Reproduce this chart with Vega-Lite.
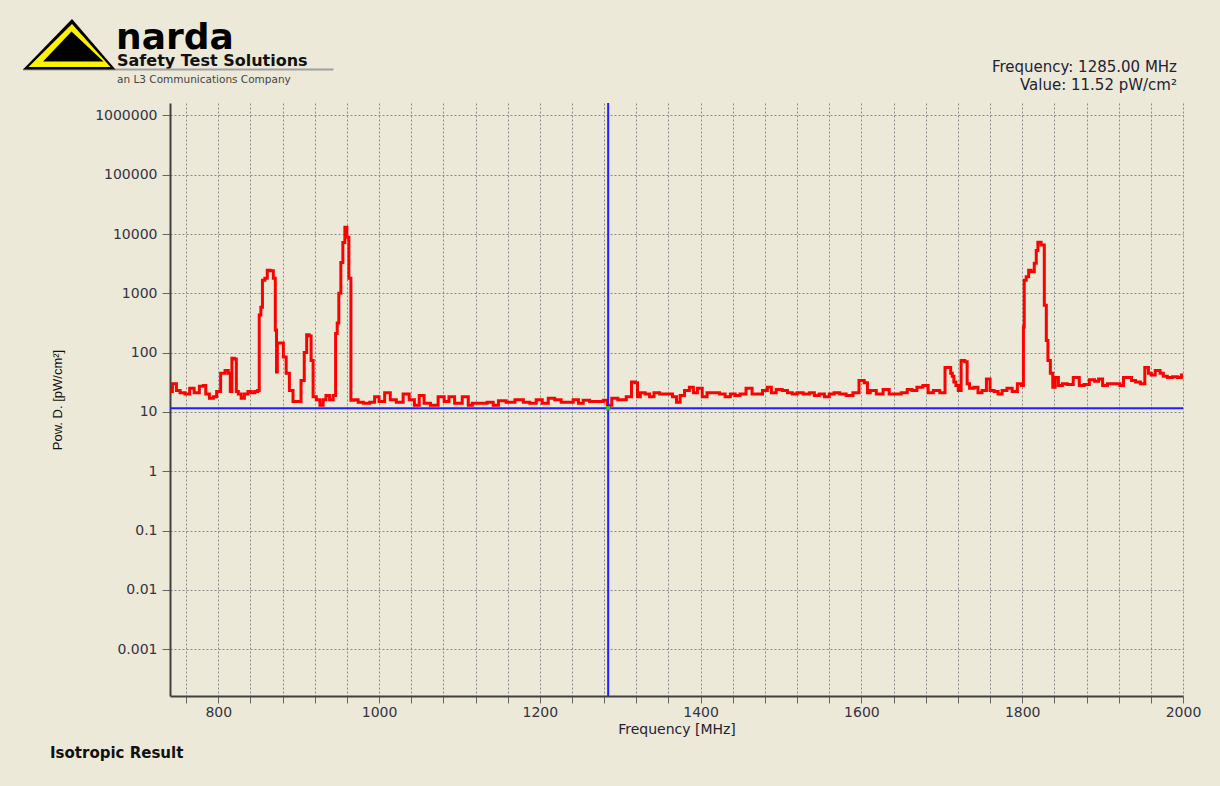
{
  "$schema": "https://vega.github.io/schema/vega-lite/v6.json",
  "width": 1013,
  "height": 593,
  "autosize": {"type": "none"},
  "padding": {"left": 170, "top": 103, "right": 37, "bottom": 90},
  "background": "#ECE9D8",
  "config": {
    "view": {"stroke": null},
    "font": "DejaVu Sans",
    "axis": {
      "grid": true, "gridDash": [2, 2], "gridColor": "#8a8a8a", "gridWidth": 1,
      "tickColor": "#666666", "tickWidth": 1,
      "domainColor": "#404040", "domainWidth": 2,
      "labelFont": "DejaVu Sans", "labelFontSize": 14, "labelColor": "#333344",
      "labelOverlap": false, "labelFlush": false, "labelBound": false,
      "titleFontWeight": "normal"
    },
    "axisX": {"tickSize": 7, "labelPadding": 2, "titleFont": "DejaVu Sans", "titleFontSize": 14, "titleColor": "#222233", "titlePadding": 3},
    "axisY": {"tickSize": 8, "labelPadding": 5, "titleFont": "Liberation Sans", "titleFontSize": 13, "titleColor": "#111111", "titlePadding": 30}
  },
  "resolve": {"axis": {"x": "independent"}},
  "datasets": {
    "trace": [
      {"freq": 740, "value": 22}, {"freq": 746, "value": 30}, {"freq": 750, "value": 23}, {"freq": 755, "value": 21},
      {"freq": 762, "value": 20}, {"freq": 767, "value": 25}, {"freq": 773, "value": 21}, {"freq": 780, "value": 27},
      {"freq": 783, "value": 28}, {"freq": 786, "value": 20}, {"freq": 792, "value": 17}, {"freq": 796, "value": 18},
      {"freq": 800, "value": 22}, {"freq": 806, "value": 45}, {"freq": 811, "value": 50}, {"freq": 814, "value": 45},
      {"freq": 816, "value": 22}, {"freq": 818, "value": 80}, {"freq": 822, "value": 78}, {"freq": 823, "value": 22},
      {"freq": 827, "value": 20}, {"freq": 830, "value": 17}, {"freq": 835, "value": 20}, {"freq": 839, "value": 22},
      {"freq": 843, "value": 21}, {"freq": 848, "value": 22}, {"freq": 850, "value": 23}, {"freq": 852, "value": 430},
      {"freq": 854, "value": 580}, {"freq": 856, "value": 1660}, {"freq": 860, "value": 1800}, {"freq": 862, "value": 2450},
      {"freq": 867, "value": 2400}, {"freq": 870, "value": 1800}, {"freq": 872, "value": 240}, {"freq": 873, "value": 47},
      {"freq": 874, "value": 145}, {"freq": 879, "value": 145}, {"freq": 883, "value": 84}, {"freq": 886, "value": 45},
      {"freq": 891, "value": 23}, {"freq": 895, "value": 15}, {"freq": 901, "value": 15}, {"freq": 905, "value": 34},
      {"freq": 909, "value": 100}, {"freq": 911, "value": 200}, {"freq": 915, "value": 190}, {"freq": 916, "value": 74},
      {"freq": 920, "value": 18}, {"freq": 924, "value": 16}, {"freq": 929, "value": 13}, {"freq": 932, "value": 16},
      {"freq": 936, "value": 19}, {"freq": 941, "value": 16}, {"freq": 945, "value": 19}, {"freq": 947, "value": 210},
      {"freq": 949, "value": 315}, {"freq": 951, "value": 1000}, {"freq": 954, "value": 3300}, {"freq": 956, "value": 7200},
      {"freq": 959, "value": 13000}, {"freq": 961, "value": 8800}, {"freq": 964, "value": 1800}, {"freq": 966, "value": 15.7},
      {"freq": 972, "value": 16}, {"freq": 976, "value": 14.5}, {"freq": 985, "value": 14}, {"freq": 992, "value": 14.5},
      {"freq": 997, "value": 18}, {"freq": 1003, "value": 15}, {"freq": 1011, "value": 21}, {"freq": 1017, "value": 16},
      {"freq": 1026, "value": 14.5}, {"freq": 1034, "value": 20}, {"freq": 1041, "value": 16}, {"freq": 1047, "value": 13},
      {"freq": 1053, "value": 19}, {"freq": 1059, "value": 14}, {"freq": 1069, "value": 13}, {"freq": 1078, "value": 18},
      {"freq": 1084, "value": 15}, {"freq": 1090, "value": 18}, {"freq": 1098, "value": 14}, {"freq": 1109, "value": 18},
      {"freq": 1113, "value": 13}, {"freq": 1119, "value": 14}, {"freq": 1129, "value": 14}, {"freq": 1140, "value": 14.5},
      {"freq": 1144, "value": 13}, {"freq": 1153, "value": 15.5}, {"freq": 1163, "value": 14.5}, {"freq": 1175, "value": 16},
      {"freq": 1184, "value": 14.5}, {"freq": 1191, "value": 14}, {"freq": 1200, "value": 16}, {"freq": 1206, "value": 14},
      {"freq": 1215, "value": 17}, {"freq": 1222, "value": 16}, {"freq": 1231, "value": 14.5}, {"freq": 1237, "value": 14.5},
      {"freq": 1246, "value": 16}, {"freq": 1250, "value": 14}, {"freq": 1258, "value": 15.7}, {"freq": 1266, "value": 15},
      {"freq": 1275, "value": 15}, {"freq": 1283, "value": 15.7}, {"freq": 1285, "value": 12}, {"freq": 1288, "value": 13},
      {"freq": 1291, "value": 17}, {"freq": 1303, "value": 16}, {"freq": 1312, "value": 18}, {"freq": 1316, "value": 32},
      {"freq": 1321, "value": 31}, {"freq": 1322, "value": 18}, {"freq": 1328, "value": 21}, {"freq": 1334, "value": 20},
      {"freq": 1339, "value": 18}, {"freq": 1345, "value": 21}, {"freq": 1353, "value": 20}, {"freq": 1362, "value": 20},
      {"freq": 1368, "value": 18}, {"freq": 1372, "value": 14.5}, {"freq": 1377, "value": 19}, {"freq": 1383, "value": 23},
      {"freq": 1389, "value": 26}, {"freq": 1393, "value": 21}, {"freq": 1399, "value": 25}, {"freq": 1405, "value": 18},
      {"freq": 1411, "value": 21}, {"freq": 1420, "value": 21}, {"freq": 1427, "value": 20}, {"freq": 1434, "value": 18},
      {"freq": 1440, "value": 20}, {"freq": 1446, "value": 19}, {"freq": 1452, "value": 20}, {"freq": 1461, "value": 25},
      {"freq": 1467, "value": 20}, {"freq": 1474, "value": 20}, {"freq": 1480, "value": 23}, {"freq": 1486, "value": 26},
      {"freq": 1490, "value": 21}, {"freq": 1498, "value": 24}, {"freq": 1505, "value": 23}, {"freq": 1511, "value": 21},
      {"freq": 1517, "value": 20}, {"freq": 1523, "value": 21}, {"freq": 1532, "value": 20}, {"freq": 1539, "value": 21},
      {"freq": 1544, "value": 19}, {"freq": 1551, "value": 20}, {"freq": 1557, "value": 18}, {"freq": 1563, "value": 20},
      {"freq": 1569, "value": 21}, {"freq": 1577, "value": 20}, {"freq": 1585, "value": 19}, {"freq": 1594, "value": 21},
      {"freq": 1600, "value": 34}, {"freq": 1607, "value": 31}, {"freq": 1608, "value": 21}, {"freq": 1614, "value": 23},
      {"freq": 1623, "value": 20}, {"freq": 1631, "value": 24}, {"freq": 1638, "value": 20}, {"freq": 1645, "value": 20},
      {"freq": 1654, "value": 21}, {"freq": 1660, "value": 24}, {"freq": 1666, "value": 23}, {"freq": 1672, "value": 26},
      {"freq": 1681, "value": 28}, {"freq": 1685, "value": 21}, {"freq": 1694, "value": 23}, {"freq": 1701, "value": 21},
      {"freq": 1707, "value": 56}, {"freq": 1710, "value": 56}, {"freq": 1712, "value": 45}, {"freq": 1714, "value": 40},
      {"freq": 1716, "value": 32}, {"freq": 1719, "value": 28}, {"freq": 1722, "value": 23}, {"freq": 1726, "value": 74},
      {"freq": 1731, "value": 70}, {"freq": 1732, "value": 30}, {"freq": 1737, "value": 25}, {"freq": 1743, "value": 26},
      {"freq": 1747, "value": 21}, {"freq": 1753, "value": 23}, {"freq": 1758, "value": 36}, {"freq": 1762, "value": 23},
      {"freq": 1768, "value": 22}, {"freq": 1772, "value": 20}, {"freq": 1778, "value": 23}, {"freq": 1784, "value": 25},
      {"freq": 1791, "value": 22}, {"freq": 1797, "value": 30}, {"freq": 1801, "value": 28}, {"freq": 1802, "value": 270},
      {"freq": 1803, "value": 1660}, {"freq": 1807, "value": 1900}, {"freq": 1809, "value": 2450}, {"freq": 1813, "value": 2300},
      {"freq": 1817, "value": 3200}, {"freq": 1818, "value": 5300}, {"freq": 1821, "value": 7300}, {"freq": 1826, "value": 6500},
      {"freq": 1829, "value": 630}, {"freq": 1831, "value": 160}, {"freq": 1833, "value": 74}, {"freq": 1837, "value": 45},
      {"freq": 1839, "value": 26}, {"freq": 1843, "value": 38}, {"freq": 1847, "value": 28}, {"freq": 1853, "value": 30},
      {"freq": 1859, "value": 29}, {"freq": 1868, "value": 38}, {"freq": 1874, "value": 28}, {"freq": 1880, "value": 29},
      {"freq": 1887, "value": 35}, {"freq": 1893, "value": 33}, {"freq": 1897, "value": 36}, {"freq": 1903, "value": 28},
      {"freq": 1909, "value": 30}, {"freq": 1919, "value": 30}, {"freq": 1924, "value": 28}, {"freq": 1928, "value": 38},
      {"freq": 1934, "value": 38}, {"freq": 1938, "value": 34}, {"freq": 1944, "value": 32}, {"freq": 1950, "value": 30},
      {"freq": 1955, "value": 56}, {"freq": 1959, "value": 45}, {"freq": 1962, "value": 42}, {"freq": 1969, "value": 50},
      {"freq": 1974, "value": 45}, {"freq": 1977, "value": 40}, {"freq": 1984, "value": 38}, {"freq": 1990, "value": 39},
      {"freq": 1996, "value": 38}, {"freq": 2000, "value": 42}
    ],
    "cursor": [
      {"freq": 1285, "value": 11.52, "line1": "Frequency: 1285.00 MHz", "line2": "Value: 11.52 pW/cm²"}
    ],
    "notes": [
      {"brand": "narda", "tagline": "Safety Test Solutions", "company": "an L3 Communications Company", "result": "Isotropic Result"}
    ]
  },
  "layer": [
    {
      "data": {"name": "trace"},
      "mark": {"type": "line", "color": "#ff0000", "strokeWidth": 3, "interpolate": "step"},
      "encoding": {
        "x": {
          "field": "freq", "type": "quantitative",
          "scale": {"domain": [740, 2000], "nice": false, "zero": false},
          "axis": {
            "orient": "bottom",
            "values": [760, 800, 840, 880, 920, 960, 1000, 1040, 1080, 1120, 1160, 1200, 1240, 1280, 1320, 1360, 1400, 1440, 1480, 1520, 1560, 1600, 1640, 1680, 1720, 1760, 1800, 1840, 1880, 1920, 1960, 2000],
            "labels": false,
            "title": null
          }
        },
        "y": {
          "field": "value", "type": "quantitative",
          "scale": {"type": "log", "domain": [0.000162, 1620000], "nice": false},
          "axis": {
            "values": [0.001, 0.01, 0.1, 1, 10, 100, 1000, 10000, 100000, 1000000],
            "labelExpr": "datum.value >= 1 ? format(datum.value, 'd') : format(datum.value, '.3~f')",
            "labelOverlap": false,
            "title": "Pow. D. [pW/cm²]"
          }
        }
      }
    },
    {
      "data": {"name": "cursor"},
      "mark": {"type": "rule", "color": "#1f1fff", "strokeWidth": 2},
      "encoding": {"y": {"field": "value", "type": "quantitative"}}
    },
    {
      "data": {"name": "cursor"},
      "mark": {"type": "rule", "color": "#1f1fff", "strokeWidth": 2},
      "encoding": {
        "x": {
          "field": "freq", "type": "quantitative",
          "axis": {
            "orient": "bottom",
            "values": [800, 1000, 1200, 1400, 1600, 1800, 2000],
            "format": "d",
            "grid": false, "ticks": false, "domain": false,
            "labelPadding": 9,
            "title": "Frequency [MHz]"
          }
        }
      }
    },
    {
      "data": {"name": "cursor"},
      "mark": {"type": "point", "shape": "square", "size": 20, "filled": true, "color": "#3fbf3f", "opacity": 1},
      "encoding": {
        "x": {"field": "freq", "type": "quantitative", "axis": null},
        "y": {"field": "value", "type": "quantitative"}
      }
    },
    {
      "data": {"name": "cursor"},
      "mark": {"type": "text", "align": "right", "baseline": "middle", "dx": -6, "dy": -36, "fontSize": 15, "font": "DejaVu Sans", "color": "#222233"},
      "encoding": {
        "x": {"datum": 2000, "type": "quantitative", "axis": null},
        "y": {"datum": 1620000, "type": "quantitative"},
        "text": {"field": "line1"}
      }
    },
    {
      "data": {"name": "cursor"},
      "mark": {"type": "text", "align": "right", "baseline": "middle", "dx": -6, "dy": -18, "fontSize": 15, "font": "DejaVu Sans", "color": "#222233"},
      "encoding": {
        "x": {"datum": 2000, "type": "quantitative", "axis": null},
        "y": {"datum": 1620000, "type": "quantitative"},
        "text": {"field": "line2"}
      }
    },
    {
      "data": {"name": "notes"},
      "mark": {"type": "text", "align": "left", "baseline": "alphabetic", "dx": -54, "dy": -54, "fontSize": 36, "fontWeight": "bold", "font": "DejaVu Sans", "color": "#000000"},
      "encoding": {
        "x": {"datum": 740, "type": "quantitative", "axis": null},
        "y": {"datum": 1620000, "type": "quantitative"},
        "text": {"field": "brand"}
      }
    },
    {
      "data": {"name": "notes"},
      "mark": {"type": "text", "align": "left", "baseline": "alphabetic", "dx": -53, "dy": -37, "fontSize": 16, "fontWeight": "bold", "font": "DejaVu Sans", "color": "#111111"},
      "encoding": {
        "x": {"datum": 740, "type": "quantitative", "axis": null},
        "y": {"datum": 1620000, "type": "quantitative"},
        "text": {"field": "tagline"}
      }
    },
    {
      "data": {"name": "notes"},
      "mark": {"type": "text", "align": "left", "baseline": "middle", "dx": -53, "dy": -23, "fontSize": 10.5, "font": "DejaVu Sans", "color": "#444444"},
      "encoding": {
        "x": {"datum": 740, "type": "quantitative", "axis": null},
        "y": {"datum": 1620000, "type": "quantitative"},
        "text": {"field": "company"}
      }
    },
    {
      "data": {"name": "notes"},
      "mark": {"type": "text", "align": "left", "baseline": "middle", "dx": -120, "dy": 57, "fontSize": 15, "fontWeight": "bold", "font": "DejaVu Sans", "color": "#111111"},
      "encoding": {
        "x": {"datum": 740, "type": "quantitative", "axis": null},
        "y": {"datum": 0.000162, "type": "quantitative"},
        "text": {"field": "result"}
      }
    },
    {
      "data": {"name": "notes"},
      "mark": {"type": "point", "shape": "M-147,-34.5 H163.5 V-32.5 H-147 Z", "size": 4, "filled": true, "color": "#a0a0a0", "opacity": 1, "strokeWidth": 0},
      "encoding": {
        "x": {"datum": 740, "type": "quantitative", "axis": null},
        "y": {"datum": 1620000, "type": "quantitative"}
      }
    },
    {
      "data": {"name": "notes"},
      "mark": {"type": "point", "shape": "M-147,-33.5 L-98,-84 L-54.5,-33.5 Z", "size": 4, "filled": true, "color": "#000000", "opacity": 1, "strokeWidth": 0},
      "encoding": {
        "x": {"datum": 740, "type": "quantitative", "axis": null},
        "y": {"datum": 1620000, "type": "quantitative"}
      }
    },
    {
      "data": {"name": "notes"},
      "mark": {"type": "point", "shape": "M-141.5,-36 L-98,-79 L-59.5,-36 Z", "size": 4, "filled": true, "color": "#fff200", "opacity": 1, "strokeWidth": 0},
      "encoding": {
        "x": {"datum": 740, "type": "quantitative", "axis": null},
        "y": {"datum": 1620000, "type": "quantitative"}
      }
    },
    {
      "data": {"name": "notes"},
      "mark": {"type": "point", "shape": "M-127,-41.5 L-98.5,-71.5 L-66.5,-41.5 Z", "size": 4, "filled": true, "color": "#000000", "opacity": 1, "strokeWidth": 0},
      "encoding": {
        "x": {"datum": 740, "type": "quantitative", "axis": null},
        "y": {"datum": 1620000, "type": "quantitative"}
      }
    }
  ]
}
